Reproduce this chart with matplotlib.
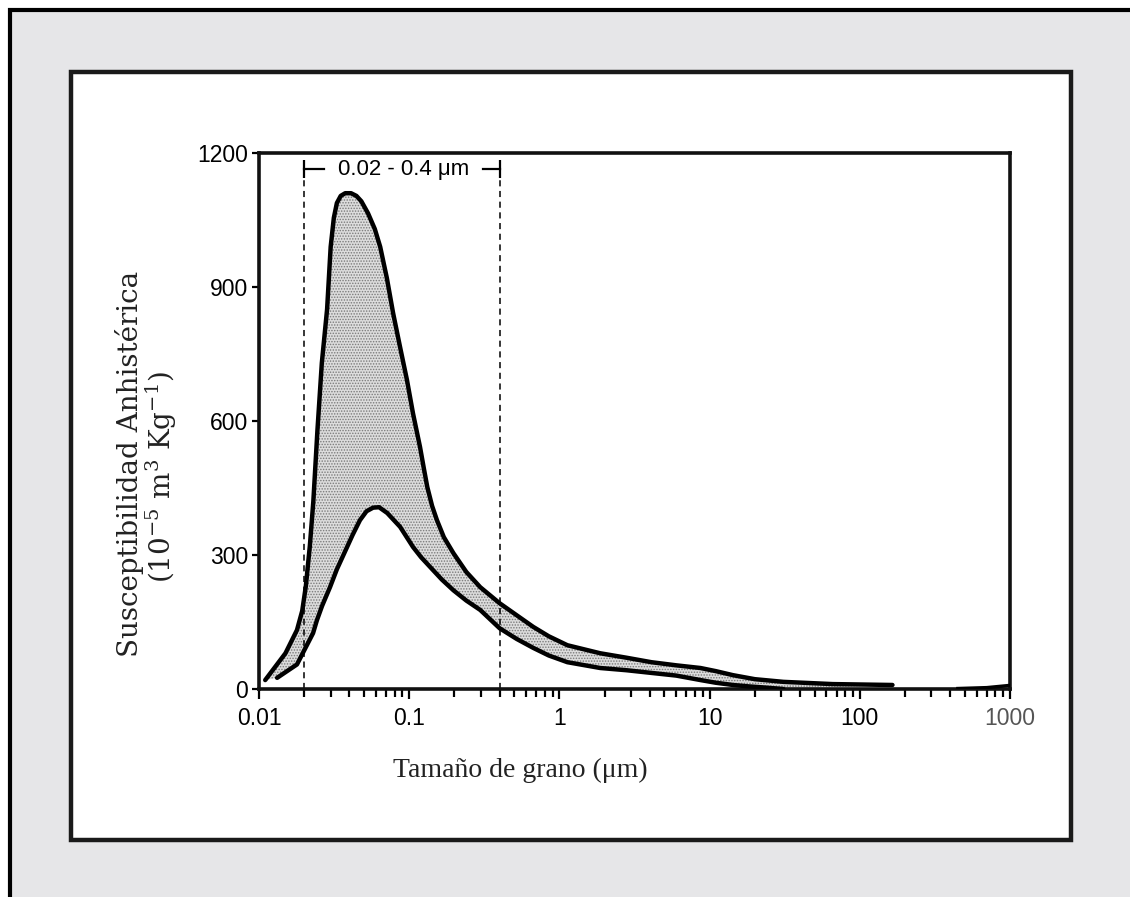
import numpy as np
import matplotlib
matplotlib.use("Agg")
import matplotlib.pyplot as plt
from matplotlib.patches import Rectangle
from matplotlib.ticker import LogLocator, FixedLocator, NullFormatter

# curva superior e inferior de la banda (tamaño de grano en um, susceptibilidad)
x_sup = [0.0110, 0.0150, 0.0179, 0.0194, 0.0205, 0.0218, 0.0230, 0.0245, 0.0262,
         0.0284, 0.0300, 0.0315, 0.0330, 0.0350, 0.0375, 0.0410, 0.0445, 0.0480,
         0.0532, 0.0590, 0.0641, 0.0710, 0.0781, 0.0870, 0.0966, 0.106, 0.118,
         0.125, 0.132, 0.142, 0.153, 0.170, 0.197, 0.24, 0.297, 0.40, 0.52, 0.67,
         0.85, 1.13, 1.87, 2.8, 4.1, 6.0, 8.7, 11, 14.3, 20, 31, 66, 165]
y_sup = [20, 80, 132, 175, 230, 320, 420, 580, 730,
         850, 990, 1055, 1088, 1104, 1110, 1110, 1104, 1092,
         1065, 1030, 990, 920, 842, 765, 692, 617, 542,
         495, 452, 410, 378, 340, 304, 262, 228, 192, 165, 139,
         118, 98, 80, 70, 60, 53, 47, 40, 31, 22, 16, 11, 9]

x_inf = [0.0132, 0.0179, 0.0229, 0.0243, 0.0263, 0.0297, 0.0330, 0.0386, 0.0420,
         0.047, 0.052, 0.0575, 0.063, 0.0714, 0.087, 0.106, 0.120, 0.138, 0.165,
         0.197, 0.24, 0.297, 0.40, 0.52, 0.67, 0.85, 1.13, 1.87, 2.8,
         4.1, 6.0, 8.7, 11, 14.3, 18, 24, 31]
y_inf = [25, 55, 125, 154, 186, 228, 268, 318, 345,
         378, 398, 406, 407, 394, 363, 318, 295, 273, 245,
         221, 198, 177, 136, 112, 92, 75, 60, 47, 42,
         36, 30, 20, 14, 9, 6, 3, 0]

# pequeño tramo junto a 1000 um
x_cola = [450, 700, 1000]
y_cola = [1, 3, 8]

rango_x = [0.02, 0.4]
rango_texto = "0.02 - 0.4 \u03bcm"
y_ticks = [0, 300, 600, 900, 1200]
x_ticks = [0.01, 0.1, 1, 10, 100, 1000]
x_labels = ["0.01", "0.1", "1", "10", "100", "1000"]

plt.rcParams["hatch.linewidth"] = 0.7
plt.rcParams["mathtext.fontset"] = "dejavuserif"

W, H = 1130, 897
fig = plt.figure(figsize=(W / 100, H / 100), dpi=100, facecolor="white")

# marcos de fondo
fig.add_artist(Rectangle((10 / W, -0.1), 1.2, 1.1 - 10 / H, transform=fig.transFigure,
                         facecolor="#e6e6e8", edgecolor="black", lw=3, zorder=0))
fig.add_artist(Rectangle((71 / W, (H - 840) / H), 1000 / W, 768 / H, transform=fig.transFigure,
                         facecolor="white", edgecolor="#1a1a1a", lw=3.2, zorder=0))

ax = fig.add_axes([259 / W, (H - 689) / H, 751 / W, 536 / H])
ax.set_xscale("log")
ax.set_xlim(0.01, 1000)
ax.set_ylim(0, 1200)

# banda sombreada
poly_x = np.concatenate([x_sup, x_inf[::-1]])
poly_y = np.concatenate([y_sup, y_inf[::-1]])
ax.fill(poly_x, poly_y, facecolor="#dcdcdc", edgecolor="#7a7a7a", hatch="......", lw=0, zorder=1)
ax.plot(x_sup, y_sup, color="black", lw=3.2, solid_joinstyle="round", solid_capstyle="round", zorder=3)
ax.plot(x_inf, y_inf, color="black", lw=3.2, solid_joinstyle="round", solid_capstyle="round", zorder=3)
ax.plot(x_cola, y_cola, color="black", lw=2.5, zorder=3)

# lineas de rango
ax.vlines(rango_x, 0, 1184, colors="black", linestyles=(0, (4, 3)), lw=1.1, zorder=2)
ax.vlines(rango_x, 1144, 1184, colors="black", lw=1.6, zorder=2)
ax.plot([rango_x[0], 0.0271], [1164, 1164], color="black", lw=1.6)
ax.plot([0.311, rango_x[1]], [1164, 1164], color="black", lw=1.6)
ax.text(0.0912, 1164, rango_texto, ha="center", va="center", fontsize=16,
        family="Liberation Sans")

for s in ax.spines.values():
    s.set_linewidth(2.6)
    s.set_color("#111111")

ax.xaxis.set_major_locator(FixedLocator(x_ticks))
ax.xaxis.set_minor_locator(LogLocator(base=10, subs=np.arange(2, 10)))
ax.xaxis.set_minor_formatter(NullFormatter())
ax.set_xticklabels(x_labels)
ax.set_yticks(y_ticks)
ax.tick_params(axis="x", which="major", direction="out", length=7, width=1.6, pad=6,
               labelsize=16.5)
ax.tick_params(axis="x", which="minor", direction="out", length=6, width=1.6)
ax.tick_params(axis="y", direction="out", length=5, width=1.6, pad=3, labelsize=16.5)
for lab in ax.get_xticklabels() + ax.get_yticklabels():
    lab.set_family("Liberation Sans")
ax.get_xticklabels()[-1].set_color("#555555")

fig.text(130 / W, (H - 464) / H, "Susceptibilidad Anhistérica", rotation=90,
         ha="center", va="center", fontsize=20, family="DejaVu Serif", color="#222222")
fig.text(161 / W, (H - 477) / H, r"(10$^{-5}$ m$^{3}$ Kg$^{-1}$)", rotation=90,
         ha="center", va="center", fontsize=20, family="DejaVu Serif", color="#222222")
fig.text(520 / W, (H - 770) / H, "Tamaño de grano (\u03bcm)", ha="center", va="center",
         fontsize=20, family="Liberation Serif", color="#222222")

fig.savefig("out.png", dpi=100)
